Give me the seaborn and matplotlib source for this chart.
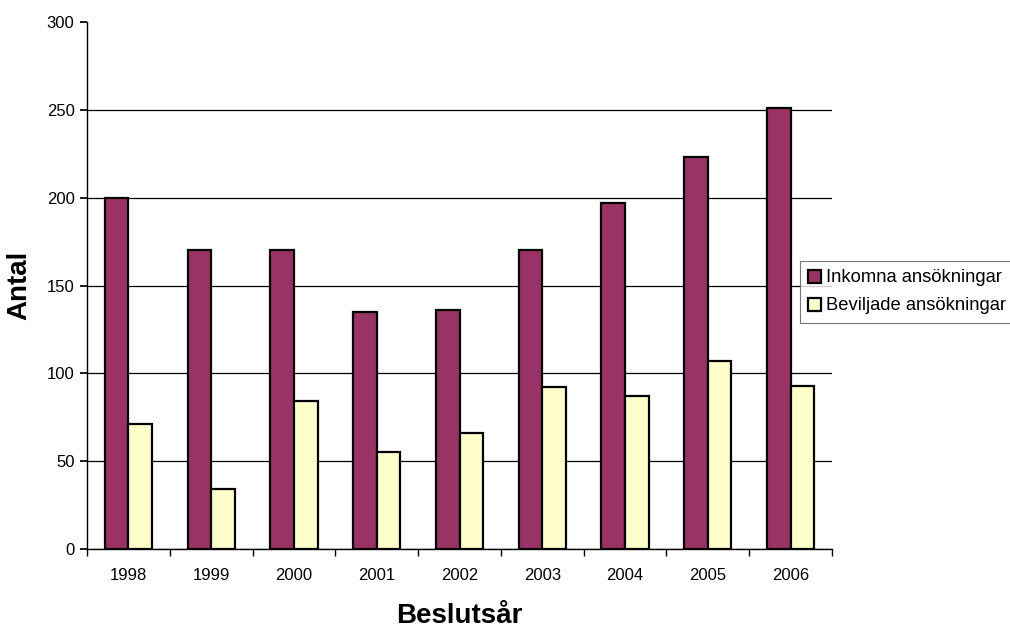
import matplotlib
matplotlib.use('Agg')
import matplotlib.pyplot as plt
import seaborn as sns
import pandas as pd

# data
years = ['1998', '1999', '2000', '2001', '2002', '2003', '2004', '2005', '2006']
inkomna = [200, 170, 170, 135, 136, 170, 197, 223, 251]
beviljade = [71, 34, 84, 55, 66, 92, 87, 107, 93]
series = ['Inkomna ansökningar', 'Beviljade ansökningar']
colors = ['#993366', '#FFFFCC']

df = pd.DataFrame({
    'year': years * 2,
    'antal': inkomna + beviljade,
    'serie': [series[0]] * len(years) + [series[1]] * len(years),
})

sns.set_theme(style='white')
plt.rcParams['font.family'] = ['Liberation Sans', 'DejaVu Sans']
plt.rcParams['text.color'] = 'black'
plt.rcParams['axes.labelcolor'] = 'black'
plt.rcParams['xtick.color'] = 'black'
plt.rcParams['ytick.color'] = 'black'

fig = plt.figure(figsize=(10.1, 6.28), dpi=100)
ax = fig.add_axes([87 / 1010, 1 - 549 / 628, (832 - 87) / 1010, (549 - 22) / 628])

sns.barplot(data=df, x='year', y='antal', hue='serie', palette=colors,
            saturation=1, width=0.57, edgecolor='black', linewidth=1.6, ax=ax)

ax.set_ylim(0, 300)
ax.set_xlim(-0.5, len(years) - 0.5)
ax.set_yticks(range(0, 301, 50))

# horizontal gridlines (none at the top)
ax.yaxis.grid(True, color='black', linewidth=0.9)
ax.set_axisbelow(True)
ax.get_ygridlines()[-1].set_visible(False)

for s in ['top', 'right']:
    ax.spines[s].set_visible(False)
for s in ['left', 'bottom']:
    ax.spines[s].set_color('black')
    ax.spines[s].set_linewidth(1.0)

# x ticks between categories
ax.set_xticks([i - 0.5 for i in range(len(years) + 1)], minor=True)
ax.tick_params(axis='x', which='major', length=0, labelsize=12, pad=14)
ax.tick_params(axis='x', which='minor', length=5, direction='out', color='black', bottom=True)
ax.tick_params(axis='y', which='major', length=5, direction='out', color='black',
               left=True, labelsize=12, pad=4)

ax.set_xlabel('Beslutsår', fontsize=20, fontweight='bold', labelpad=14)
ax.set_ylabel('Antal', fontsize=20, fontweight='bold', labelpad=10)

leg = ax.legend(loc='center left', bbox_to_anchor=(800 / 1010, 1 - 292 / 628),
                bbox_transform=fig.transFigure, frameon=True, fancybox=False,
                fontsize=13.2, handlelength=0.7, handleheight=0.7,
                handletextpad=0.25, borderpad=0.45, labelspacing=0.6,
                borderaxespad=0)
leg.get_frame().set_edgecolor('#555555')
leg.get_frame().set_linewidth(0.8)
for h in leg.legend_handles:
    h.set_edgecolor('black')
    h.set_linewidth(1.6)

fig.savefig('out.png', dpi=100)
